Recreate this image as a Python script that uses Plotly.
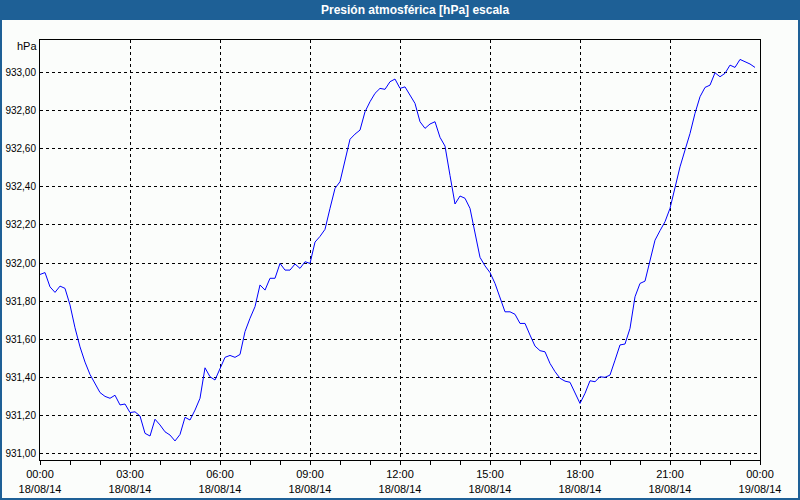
import pandas as pd
import plotly.graph_objects as go

# Pressure readings every 10 minutes, 18/08/14 00:00 .. 23:50 (hPa)
pressure = [
    931.94, 931.95, 931.875, 931.846, 931.879, 931.867, 931.78, 931.66, 931.56, 931.48,
    931.415, 931.365, 931.32, 931.30, 931.29, 931.306, 931.255, 931.26, 931.215, 931.219,
    931.197, 931.106, 931.092, 931.18, 931.15, 931.114, 931.097, 931.066, 931.10, 931.19,
    931.176, 931.228, 931.29, 931.45, 931.403, 931.386, 931.45, 931.505, 931.515, 931.505,
    931.52, 931.64, 931.71, 931.771, 931.885, 931.858, 931.92, 931.92, 931.998, 931.963,
    931.963, 931.995, 931.972, 932.007, 931.998, 932.11, 932.14, 932.177, 932.287, 932.392,
    932.427, 932.54, 932.65, 932.677, 932.698, 932.794, 932.847, 932.891, 932.917, 932.912,
    932.952, 932.966, 932.917, 932.925, 932.882, 932.838, 932.742, 932.707, 932.73, 932.742,
    932.66, 932.614, 932.46, 932.31, 932.352, 932.34, 932.287, 932.15, 932.03, 931.985,
    931.95, 931.893, 931.815, 931.744, 931.744, 931.731, 931.683, 931.683, 931.622, 931.564,
    931.54, 931.534, 931.473, 931.43, 931.395, 931.38, 931.374, 931.316, 931.263, 931.316,
    931.382, 931.377, 931.403, 931.40, 931.412, 931.49, 931.57, 931.575, 931.657, 931.823,
    931.893, 931.905, 932.016, 932.12, 932.17, 932.217, 932.287, 932.40, 932.505, 932.593,
    932.68, 932.786, 932.873, 932.922, 932.934, 932.999, 932.978, 932.996, 933.039, 933.027,
    933.069, 933.057, 933.045, 933.027,
]
start_time = "2014-08-18 00:00"
times = pd.date_range(start_time, periods=len(pressure), freq="10min")

y_tick_vals = [931.0, 931.2, 931.4, 931.6, 931.8, 932.0, 932.2, 932.4, 932.6, 932.8, 933.0]
y_tick_text = ["931,00", "931,20", "931,40", "931,60", "931,80", "932,00",
               "932,20", "932,40", "932,60", "932,80", "933,00"]

x_tick_vals = ["2014-08-18 00:00", "2014-08-18 03:00", "2014-08-18 06:00",
               "2014-08-18 09:00", "2014-08-18 12:00", "2014-08-18 15:00",
               "2014-08-18 18:00", "2014-08-18 21:00", "2014-08-19 00:00"]
x_tick_text = ["00:00<br>18/08/14", "03:00<br>18/08/14", "06:00<br>18/08/14",
               "09:00<br>18/08/14", "12:00<br>18/08/14", "15:00<br>18/08/14",
               "18:00<br>18/08/14", "21:00<br>18/08/14", "00:00<br>19/08/14"]

title_text = "Presión atmosférica [hPa] escala"
unit_text = "hPa"

W, H = 800, 500
ML, MR, MT, MB = 40, 40, 40, 40
PW, PH = W - ML - MR, H - MT - MB


def px(x):
    return (x - ML) / PW


def py(y):
    return (H - MB - y) / PH


FONT = "Liberation Sans, Arial, sans-serif"
BLUE = "#1E6096"
BG = "#FBFDFB"

fig = go.Figure()
fig.add_trace(go.Scatter(x=times, y=pressure, mode="lines",
                         line=dict(color="#0000FF", width=1),
                         hoverinfo="x+y", showlegend=False))

fig.update_layout(
    width=W, height=H,
    margin=dict(l=ML, r=MR, t=MT, b=MB, pad=0, autoexpand=False),
    paper_bgcolor=BG, plot_bgcolor=BG,
    font=dict(family=FONT, size=11, color="#000000"),
    showlegend=False,
    xaxis=dict(
        type="date", automargin=False,
        range=["2014-08-18 00:00", "2014-08-19 00:00"],
        tickmode="array", tickvals=x_tick_vals, ticktext=x_tick_text,
        showgrid=True, gridcolor="#000000", gridwidth=1, griddash="3px,3px",
        showline=True, linecolor="#000000", linewidth=1, mirror=True,
        ticks="outside", ticklen=4, tickcolor="#000000", tickwidth=1,
        minor=dict(dtick=3600000, ticks="outside", ticklen=4,
                   tickcolor="#000000", showgrid=False),
        zeroline=False, fixedrange=True,
        tickfont=dict(family=FONT, size=11, color="#000000"),
    ),
    yaxis=dict(
        automargin=False,
        range=[930.966, 933.171],
        tickmode="array", tickvals=y_tick_vals, ticktext=y_tick_text,
        showgrid=True, gridcolor="#000000", gridwidth=1, griddash="3px,3px",
        showline=True, linecolor="#000000", linewidth=1, mirror=True,
        ticks="", ticklabelstandoff=1,
        zeroline=False, fixedrange=True,
        tickfont=dict(family=FONT, size=10, color="#000000"),
    ),
    shapes=[
        dict(type="rect", xref="paper", yref="paper",
             x0=px(0), x1=px(W), y0=py(20), y1=py(0),
             fillcolor=BLUE, line=dict(width=0), layer="below"),
        dict(type="rect", xref="paper", yref="paper",
             x0=px(1), x1=px(W - 1), y0=py(H - 1), y1=py(0),
             fillcolor="rgba(0,0,0,0)", line=dict(color=BLUE, width=2), layer="above"),
    ],
    annotations=[
        dict(text="<b>" + title_text + "</b>", xref="paper", yref="paper",
             x=px(415), y=py(10), xanchor="center", yanchor="middle",
             showarrow=False, font=dict(family=FONT, size=12, color="#FFFFFF")),
        dict(text=unit_text, xref="paper", yref="paper",
             x=px(39), y=py(46), xanchor="right", yanchor="middle",
             showarrow=False, font=dict(family=FONT, size=11, color="#000000")),
    ],
)

fig.write_html("out.html")
